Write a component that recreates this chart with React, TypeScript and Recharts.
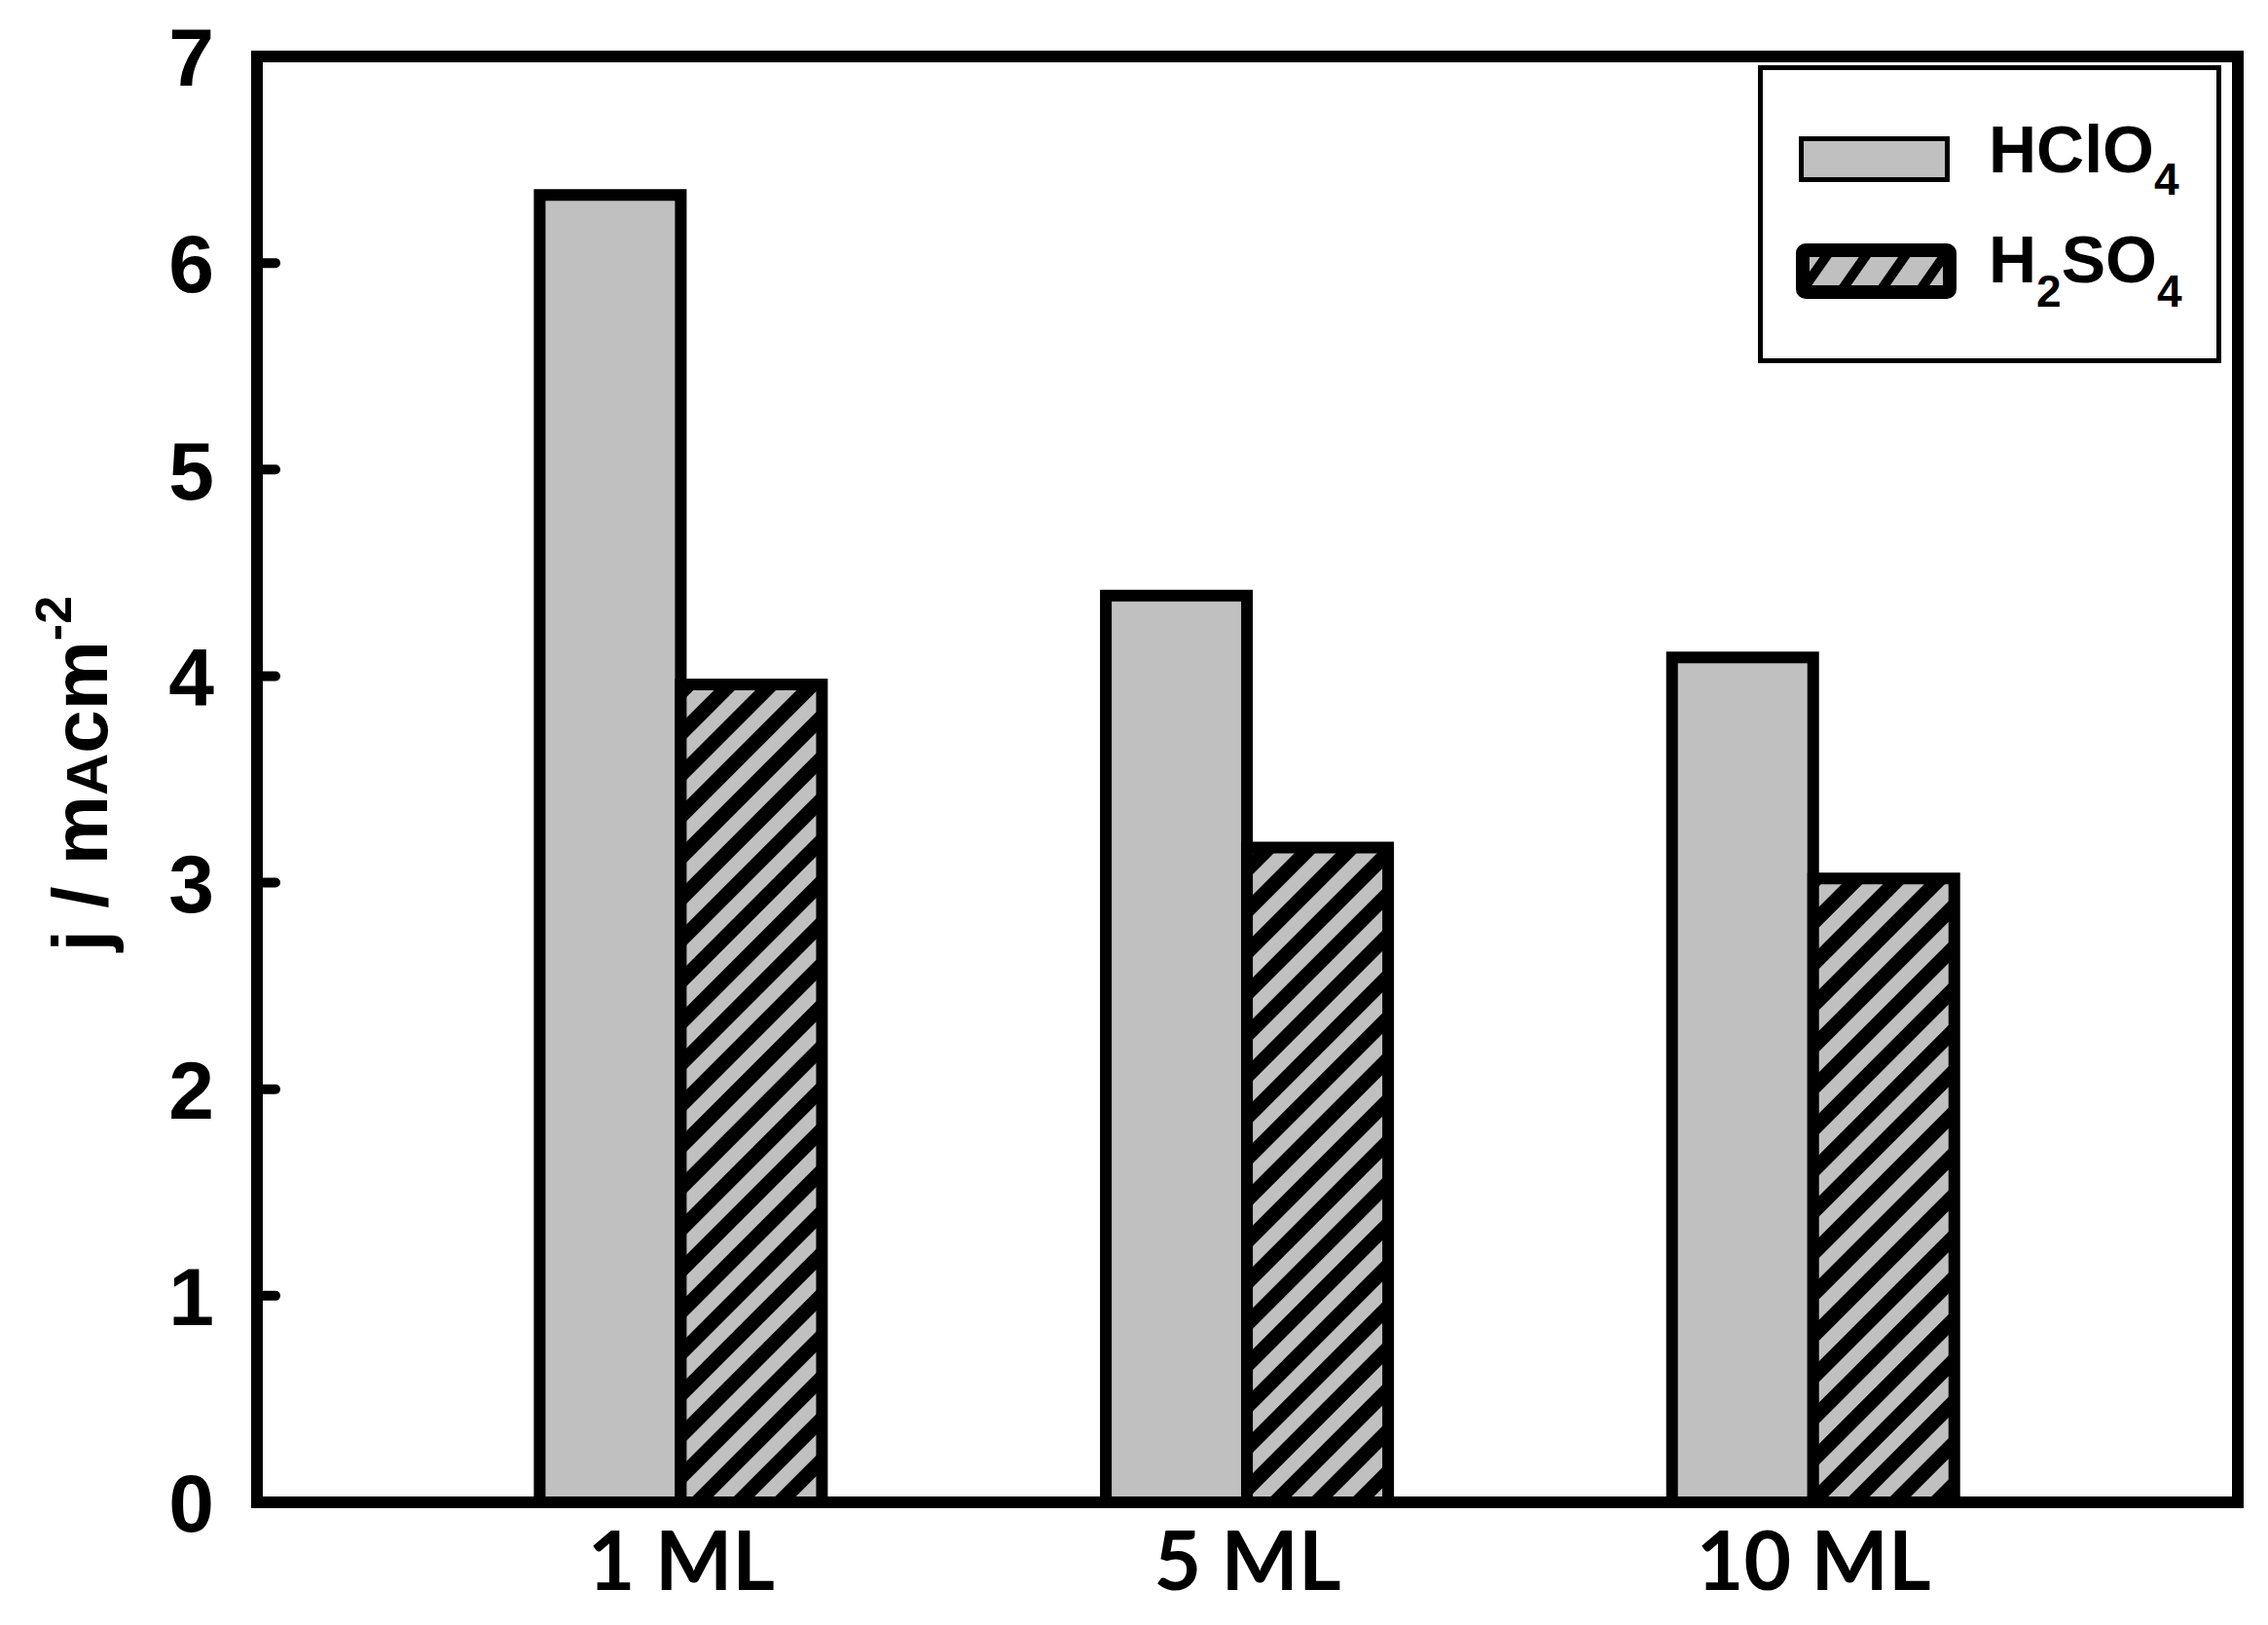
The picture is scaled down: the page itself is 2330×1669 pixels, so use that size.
import { BarChart, Bar, XAxis, YAxis, Legend, CartesianGrid } from 'recharts';

const categories = ['1 ML', '5 ML', '10 ML'];
const hclo4 = [6.33, 4.39, 4.09];
const h2so4 = [3.96, 3.17, 3.02];
const yTicks = [0, 1, 2, 3, 4, 5, 6, 7];

const data = categories.map((name, i) => ({ name, hclo4: hclo4[i], h2so4: h2so4[i] }));

const grey = '#c0c0c0';
const arial = "'Liberation Sans', Arimo, Arial, Helvetica, sans-serif";
const boldArial = { fontFamily: arial, fontWeight: 700 };
const frameLine = { stroke: '#000', strokeWidth: 12, strokeLinecap: 'square' as const };

function YTick({ x, y, payload }: any) {
  const inner = payload.value > 0 && payload.value < 7;
  return (
    <g>
      <text x={x} y={y} dy="0.36em" textAnchor="end" style={boldArial} fontSize={84} fill="#000">
        {payload.value}
      </text>
      {inner && <line x1={x + 44} x2={x + 63} y1={y} y2={y} stroke="#000" strokeWidth={10} strokeLinecap="round" />}
    </g>
  );
}

function YLabel({ viewBox }: any) {
  const cx = 110;
  const cy = viewBox.y + viewBox.height / 2 - 6;
  return (
    <text
      x={cx}
      y={cy}
      transform={`rotate(-90, ${cx}, ${cy})`}
      textAnchor="middle"
      style={boldArial}
      fontSize={80}
      fill="#000"
    >
      j / m<tspan fontSize={60}>A</tspan>cm<tspan fontSize={52} dy={-37}>-2</tspan>
    </text>
  );
}

function LegendBox() {
  return (
    <svg width={476} height={306} style={{ display: 'block' }}>
      <defs>
        <pattern id="hatchLegend" width={33} height={33} patternUnits="userSpaceOnUse" patternTransform="rotate(35)">
          <rect width={33} height={33} fill={grey} />
          <rect width={10} height={33} fill="#000" />
        </pattern>
      </defs>
      <rect x={2.5} y={2.5} width={471} height={301} fill="#fff" stroke="#000" strokeWidth={5} />
      <rect x={44.5} y={75.5} width={150} height={42} fill={grey} stroke="#000" strokeWidth={5} />
      <rect x={46} y={190} width={151} height={43} rx={3} fill="url(#hatchLegend)" stroke="#000" strokeWidth={14} />
      <text x={237} y={110} style={boldArial} fontSize={68} fill="#000">
        HClO<tspan fontSize={46} dy={23}>4</tspan>
      </text>
      <text x={237} y={223} style={boldArial} fontSize={68} fill="#000">
        H<tspan fontSize={46} dy={25}>2</tspan>
        <tspan dy={-25}>SO</tspan>
        <tspan fontSize={46} dy={25}>4</tspan>
      </text>
    </svg>
  );
}

export default function App() {
  return (
    <div style={{ position: 'absolute', left: 0, top: 0, background: '#fff' }}>
      <BarChart
        width={2330}
        height={1669}
        data={data}
        margin={{ top: 58, right: 31, bottom: 26, left: 64 }}
        barCategoryGap="25%"
        barGap={0}
      >
        <defs>
          <pattern id="hatch" width={30} height={30} patternUnits="userSpaceOnUse" patternTransform="rotate(45)">
            <rect width={30} height={30} fill={grey} />
            <rect width={15} height={30} fill="#000" />
          </pattern>
        </defs>
        {/* top and right edges of the frame */}
        <CartesianGrid
          stroke="#000"
          strokeWidth={12}
          strokeLinecap="square"
          horizontalCoordinatesGenerator={({ offset }: any) => [offset.top]}
          verticalCoordinatesGenerator={({ offset }: any) => [offset.left + offset.width]}
        />
        <XAxis
          dataKey="name"
          padding={{ left: 145, right: 145 }}
          height={100}
          tickLine={false}
          tickSize={0}
          tickMargin={30}
          axisLine={frameLine}
          tick={{ fontSize: 84, fontFamily: 'Lato, sans-serif', fontWeight: 700, fill: '#000' }}
        />
        <YAxis
          domain={[0, 7]}
          ticks={yTicks}
          width={200}
          tickLine={false}
          tickSize={0}
          tickMargin={44}
          axisLine={frameLine}
          tick={<YTick />}
          label={<YLabel />}
        />
        <Legend
          layout="vertical"
          align="center"
          verticalAlign="middle"
          wrapperStyle={{ position: 'absolute', left: 1806, top: 67, width: 476, height: 306 }}
          content={() => <LegendBox />}
        />
        <Bar dataKey="hclo4" name="HClO4" fill={grey} stroke="#000" strokeWidth={12} isAnimationActive={false} />
        <Bar dataKey="h2so4" name="H2SO4" fill="url(#hatch)" stroke="#000" strokeWidth={12} isAnimationActive={false} />
      </BarChart>
    </div>
  );
}
